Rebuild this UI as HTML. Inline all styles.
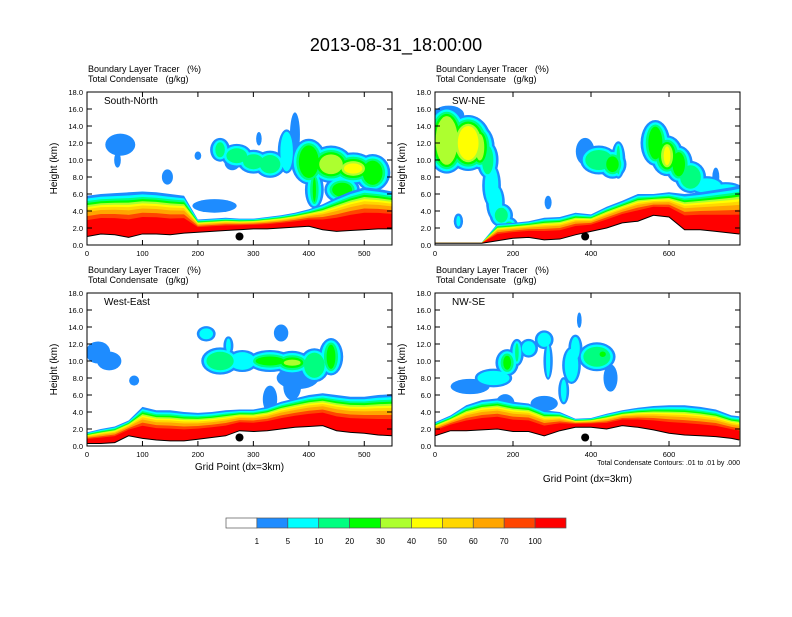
<!DOCTYPE html>
<html><head><meta charset="utf-8"><style>
body{margin:0;background:#fff;}
svg text{font-family:"Liberation Sans",sans-serif;white-space:pre;}
</style></head><body>
<svg id="chart" width="792" height="612" xmlns="http://www.w3.org/2000/svg">
<text x="396" y="51" font-size="18" text-anchor="middle">2013-08-31_18:00:00</text>
<g id="panels"></g>
<g id="cbar"></g>
</svg>
<script>
const COLORS=["#ffffff","#1e8cff","#00ffff","#00ff80","#00ff00","#adff2f","#ffff00","#ffd700","#ffa500","#ff4500","#ff0000"];
const CB_LABELS=["1","5","10","20","30","40","50","60","70","100"];
// Panel data (grid x samples, boundary-layer top km, terrain km, clouds [x,z,rx,rz,level])
const tlXs=[0,25,50,75,100,125,150,175,200,225,250,275,300,325,350,375,400,425,450,475,500,525,550];
const tlTop=[5.8,6.0,6.1,6.2,6.3,6.2,6.0,5.8,3.0,3.1,3.2,3.1,3.1,3.3,3.5,3.8,4.2,4.8,5.6,6.3,6.8,6.6,6.3];
const tlTerr=[1.0,1.3,1.2,0.9,1.3,1.3,1.2,1.4,1.5,1.6,1.7,1.8,1.9,1.9,2.0,2.1,2.2,1.8,1.6,1.7,1.8,1.9,1.9];
const tlClouds=[[60,11.8,27,1.3,1],[55,10,6,0.9,2],[145,8,10,0.9,1],[200,10.5,6,0.5,1],[262,9.7,14,0.9,1],[310,12.5,5,0.8,1],
 [240,11.2,18,1.4,3],[270,10.5,28,1.4,3],[300,9.8,28,1.4,3],[330,9.5,28,1.6,3],[360,11,16,2.6,2],[375,13,9,2.6,1],
 [400,9.8,32,2.7,4],[440,9.5,40,2.2,5],[480,9,40,1.9,6],[515,8.5,32,2.2,4],[470,8.5,22,1.2,7],[410,6.5,17,2.2,6],[460,6.5,32,1.6,4],[230,4.6,40,0.8,1]];
const trXs=[0,40,80,120,160,200,240,280,320,360,400,440,480,520,560,600,640,680,720,760,780];
const trTop=[0.3,0.3,0.3,0.3,2.5,2.6,2.8,3.2,3.3,3.8,3.6,4.5,5.2,6.0,6.0,6.2,6.0,6.2,6.5,6.8,7.0];
const trTerr=[0.2,0.2,0.2,0.2,0.5,0.8,0.9,0.6,0.7,1.2,1.6,2.0,2.6,2.8,3.5,3.3,1.8,1.8,1.6,1.4,1.3];
const trClouds=[[30,12.3,55,3.9,5],[85,12,60,3.3,6],[115,11.5,38,2.6,5],[135,10,28,2.2,3],[145,7,24,2.6,2],[155,5,24,2.2,2],[170,3.5,30,1.4,3],[190,2.2,24,1.1,4],[35,15.3,40,1.1,1],[60,2.8,12,0.9,2],[10,11,12,1.1,1],
 [385,11,24,1.6,1],[420,10,48,1.7,3],[455,9.5,36,1.7,4],[470,10,18,2.2,3],[565,12,38,2.7,4],[595,10.5,42,2.4,6],[625,9.5,36,2.2,4],[655,8,40,1.9,3],[695,7,45,1.1,2],[745,6.5,45,0.9,2],[720,8,9,1.1,1],[290,5,9,0.8,1]];
const blXs=[0,25,50,75,100,125,150,175,200,225,250,275,300,325,350,375,400,425,450,475,500,525,550];
const blTop=[1.6,2.0,2.3,3.0,4.6,4.2,4.2,4.0,3.9,4.0,4.2,4.3,4.3,4.6,5.2,5.6,6.0,6.2,6.0,5.8,5.8,6.0,6.1];
const blTerr=[0.3,0.3,0.4,1.2,0.9,0.7,0.6,0.6,0.8,1.0,1.2,1.8,1.7,1.8,2.0,2.2,2.3,2.4,1.8,1.6,1.5,1.3,1.2];
const blClouds=[[20,11,22,1.3,1],[40,10,22,1.1,1],[85,7.7,9,0.6,1],[215,13.2,17,0.9,2],[255,11.8,9,1.1,2],[240,10,34,1.6,3],[280,10,28,1.3,2],[330,10,40,1.3,4],[370,9.8,34,1.4,5],[410,9.5,28,2,3],[440,10.5,22,2.2,4],[380,8.0,38,1.3,1],[350,13.3,13,1,1],[330,5.5,13,1.6,1],[370,7,16,1.6,1]];
const brXs=[0,40,80,120,160,200,240,280,320,360,400,440,480,520,560,600,640,680,720,760,780];
const brTop=[2.8,3.6,4.8,5.4,5.6,5.2,5.0,4.2,4.0,3.2,3.3,3.8,4.2,4.5,4.7,4.8,4.8,4.6,4.3,3.6,3.5];
const brTerr=[1.2,1.8,1.8,1.9,2.0,1.7,1.7,1.2,1.8,2.2,2.2,2.0,2.4,2.2,1.9,1.5,1.3,1.2,1.1,0.9,0.7];
const brClouds=[[90,7,50,0.9,1],[150,8,48,1.1,2],[185,9.8,30,1.6,4],[210,11,18,1.6,3],[240,11.5,24,1.1,2],[280,12.5,24,1.1,2],[290,10,12,2.2,3],[350,9.5,24,2.2,2],[360,11.5,18,1.6,2],[370,14.8,6,0.9,1],[415,10.5,48,1.7,3],[430,10.8,28,1.1,4],[450,8,18,1.6,1],[330,6.5,14,1.6,2],[280,5,35,0.9,1],[180,5,24,1.1,1]];
const panels=[
 {name:"south-north",label:"South-North",x0:87,y0:92,w:305,h:153,xmax:550,ticks:[0,100,200,300,400,500],xs:tlXs,top:tlTop,terr:tlTerr,clouds:tlClouds,dot:275,xt:false},
 {name:"sw-ne",label:"SW-NE",x0:435,y0:92,w:305,h:153,xmax:782,ticks:[0,200,400,600],xs:trXs,top:trTop,terr:trTerr,clouds:trClouds,dot:385,xt:false},
 {name:"west-east",label:"West-East",x0:87,y0:293,w:305,h:153,xmax:550,ticks:[0,100,200,300,400,500],xs:blXs,top:blTop,terr:blTerr,clouds:blClouds,dot:275,xt:true},
 {name:"nw-se",label:"NW-SE",x0:435,y0:293,w:305,h:153,xmax:782,ticks:[0,200,400,600],xs:brXs,top:brTop,terr:brTerr,clouds:brClouds,dot:385,xt:true}
];
const FR=[1.0,0.93,0.87,0.82,0.77,0.72,0.67,0.6,0.5,0.4];
const NS="http://www.w3.org/2000/svg";
function mk(tag,attrs,parent){const e=document.createElementNS(NS,tag);for(const k in attrs)e.setAttribute(k,attrs[k]);parent.appendChild(e);return e;}
const root=document.getElementById('panels');
panels.forEach((p,pi)=>{
 const sx=v=>p.x0+v/p.xmax*p.w, sy=z=>p.y0+p.h-z/18*p.h;
 const g=mk('g',{},root);
 
 
 const t1=mk('text',{x:p.x0+1,y:p.y0-20,'font-size':9},g);t1.textContent="Boundary Layer Tracer   (%)";
 
 
 const t2=mk('text',{x:p.x0+1,y:p.y0-10,'font-size':9},g);t2.textContent="Total Condensate   (g/kg)";
 
 
 mk('clipPath',{id:'c'+pi},g).appendChild(document.createElementNS(NS,'rect'));
 const cr=g.querySelector('#c'+pi+' rect');cr.setAttribute('x',p.x0);cr.setAttribute('y',p.y0);cr.setAttribute('width',p.w);cr.setAttribute('height',p.h);
 const plot=mk('g',{'clip-path':'url(#c'+pi+')'},g);
 
 
 // clouds drawn level by level so overlapping blobs merge; fixed ring thickness
 for(let L=1;L<=10;L++){
  p.clouds.forEach(c=>{
   if(c[4]<L)return;
   const rx=c[2]/p.xmax*p.w-(L-1)*2.6, ry=c[3]/18*p.h-(L-1)*2.2;
   if(rx<1||ry<1)return;
   const el=mk('ellipse',{cx:sx(c[0]),cy:sy(c[1]),rx:rx,ry:ry,fill:COLORS[L]},plot);
   
   
  });
 }
 // boundary layer bands
 const base=p.xs.map((x,i)=>sx(x)+','+sy(p.terr[i])).reverse().join(' ');
 FR.forEach((f,k)=>{
  const pts=p.xs.map((x,i)=>sx(x)+','+sy(p.terr[i]+(p.top[i]-p.terr[i])*f)).join(' ');
  const el=mk('polygon',{points:pts+' '+base,fill:COLORS[k+1]},plot);
  
  
 });
 const tl=mk('polyline',{points:p.xs.map((x,i)=>sx(x)+','+sy(p.terr[i])).join(' '),fill:'none',stroke:'#000','stroke-width':1},plot);
 
 
 const dot=mk('circle',{cx:sx(p.dot),cy:sy(1.0),r:4,fill:'#000'},plot);
 
 
 const fr=mk('rect',{x:p.x0,y:p.y0,width:p.w,height:p.h,fill:'none',stroke:'#000','stroke-width':1},g);
 
 
 const lb=mk('text',{x:p.x0+17,y:p.y0+12,'font-size':10},g);lb.textContent=p.label;
 
 
 for(let z=0;z<=18;z+=2){const y=sy(z);
  mk('line',{x1:p.x0,x2:p.x0+5,y1:y,y2:y,stroke:'#000'},g);
  mk('line',{x1:p.x0+p.w,x2:p.x0+p.w-5,y1:y,y2:y,stroke:'#000'},g);
  const tt=mk('text',{x:p.x0-4,y:y+3,'font-size':7.5,'text-anchor':'end'},g);tt.textContent=z.toFixed(1);
  
  }
 p.ticks.forEach(v=>{const x=sx(v);
  mk('line',{x1:x,x2:x,y1:p.y0+p.h,y2:p.y0+p.h-5,stroke:'#000'},g);
  mk('line',{x1:x,x2:x,y1:p.y0,y2:p.y0+5,stroke:'#000'},g);
  const tt=mk('text',{x:x,y:p.y0+p.h+11,'font-size':7.5,'text-anchor':'middle'},g);tt.textContent=v;
  
  });
 const yt=mk('text',{x:0,y:0,'font-size':10,'text-anchor':'middle',transform:'translate('+(p.x0-30)+','+(p.y0+p.h/2)+') rotate(-90)'},g);yt.textContent="Height (km)";
 
 
 if(p.xt){const xt=mk('text',{x:p.x0+p.w/2,y:p.y0+p.h+(pi==3?36:24),'font-size':10,'text-anchor':'middle'},g);xt.textContent="Grid Point (dx=3km)";
  
  }
 if(pi==3){const n=mk('text',{x:p.x0+p.w,y:p.y0+p.h+19,'font-size':7,'text-anchor':'end'},g);n.textContent="Total Condensate Contours: .01 to .01 by .000";
  
  }
});
const cb=document.getElementById('cbar');
const bw=340/11;
COLORS.forEach((c,i)=>{const r=mk('rect',{x:226+i*bw,y:518,width:bw,height:10,fill:c,stroke:'#555','stroke-width':0.7},cb);
 
 });
CB_LABELS.forEach((l,i)=>{const t=mk('text',{x:226+(i+1)*bw,y:544,'font-size':8,'text-anchor':'middle'},cb);t.textContent=l;
 
 });
</script>
</body></html>
